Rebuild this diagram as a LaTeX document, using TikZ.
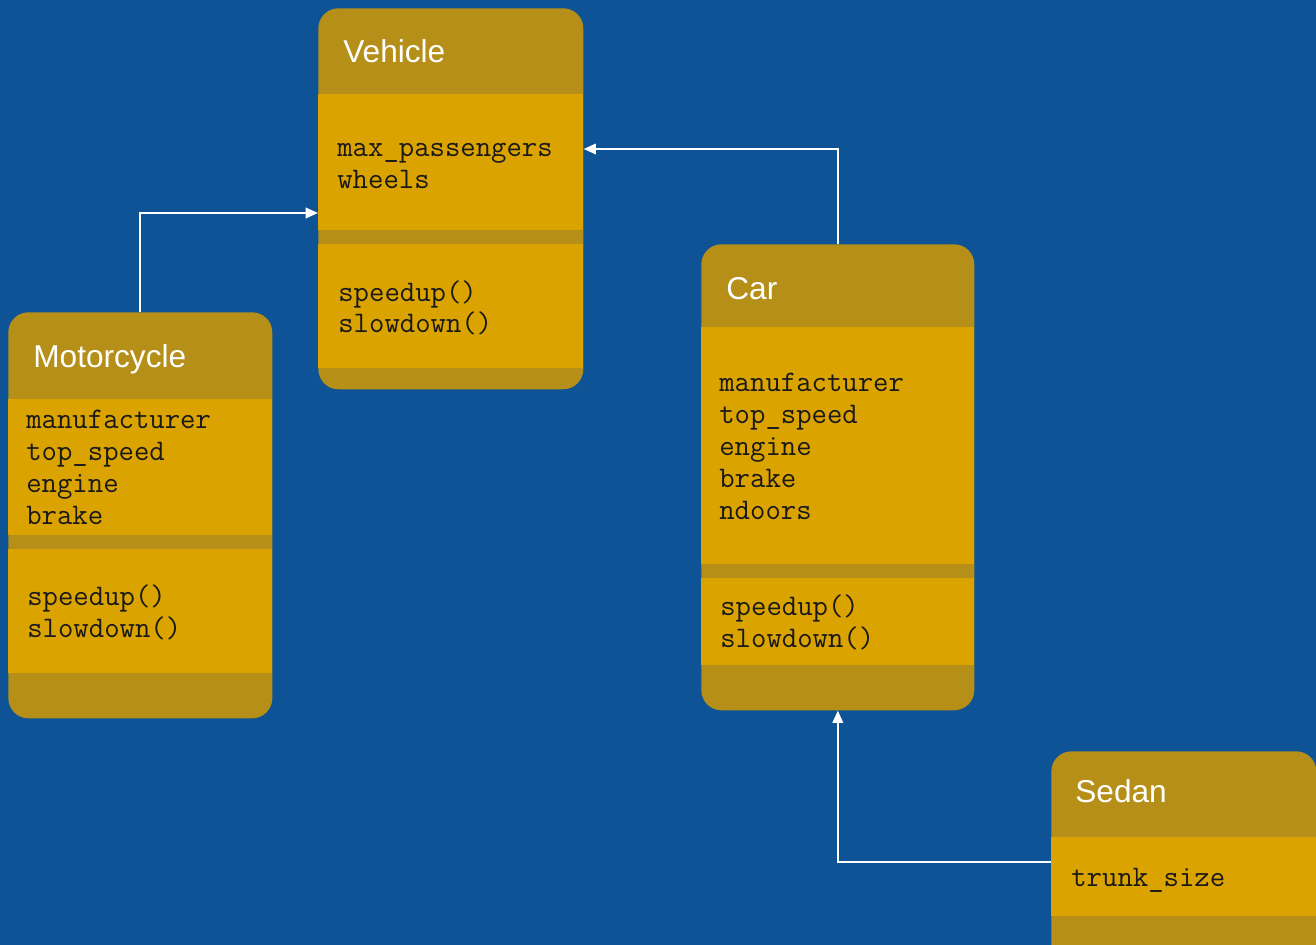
\documentclass[tikz,border=0pt]{standalone}
\usepackage{fontspec}
\setmainfont{Liberation Sans}
\usepackage{tikz}
\usetikzlibrary{arrows.meta, positioning, calc}

\definecolor{bgblue}{RGB}{13,83,149}
\definecolor{hdrgold}{RGB}{181,143,24}
\definecolor{bodygold}{RGB}{218,163,0}

\tikzset{
  classbox/.style={rectangle, rounded corners=0.4cm, fill=hdrgold, inner sep=0pt, anchor=north west, minimum width=5.3cm},
  section/.style={fill=bodygold},
  classname/.style={anchor=base west, inner sep=0pt, text=white, font=\fontsize{18}{22}\selectfont},
  member/.style={anchor=base west, inner sep=0pt, text=black!90, font=\ttfamily\fontsize{17}{20}\selectfont},
  link/.style={draw=white, line width=1.1pt, -{Triangle[width=6pt,length=7pt]}}
}

\begin{document}
\begin{tikzpicture}[x=0.02cm, y=-0.02cm]
			\fill[bgblue] (0,0) rectangle (1316,945);
			\useasboundingbox (0,0) rectangle (1316,945);
			\clip (0,0) rectangle (1316,945);

			% Class boxes
			\node[classbox, minimum height=7.62cm] (vehicle) at (318,8) {};
			\node[classbox, minimum width=5.28cm, minimum height=8.12cm] (moto) at (8,312) {};
			\node[classbox, minimum width=5.46cm, minimum height=9.32cm] (car) at (701,244) {};
			\node[classbox, minimum height=4.6cm] (sedan) at (1051,751) {};

			% Sections
			\fill[section] (318,94) rectangle (583,230);
			\fill[section] (318,244) rectangle (583,368);
			\fill[section] (8,399) rectangle (272,535);
			\fill[section] (8,549) rectangle (272,673);
			\fill[section] (701,327) rectangle (974,564);
			\fill[section] (701,578) rectangle (974,665);
			\fill[section] (1051,837) rectangle (1316,916);

			% Names
			\node[classname] (vehicleT) at (343,63) {Vehicle};
			\node[classname] (motoT) at (33,368) {Motorcycle};
			\node[classname] (carT) at (726,300) {Car};
			\node[classname] (sedanT) at (1075,803) {Sedan};

			% Attributes and methods
			\foreach \t [count=\i from 0] in {max\_passengers, wheels}
				\node[member] (vehA\i) at (337,157+32*\i) {\t};
			\foreach \t [count=\i from 0] in {speedup(), slowdown()}
				\node[member] (vehM\i) at (338,302+31*\i) {\t};
			\foreach \t [count=\i from 0] in {manufacturer, top\_speed, engine, brake}
				\node[member] (motoA\i) at (26,429+32*\i) {\t};
			\foreach \t [count=\i from 0] in {speedup(), slowdown()}
				\node[member] (motoM\i) at (27,606+32*\i) {\t};
			\foreach \t [count=\i from 0] in {manufacturer, top\_speed, engine, brake, ndoors}
				\node[member] (carA\i) at (719,392+32*\i) {\t};
			\foreach \t [count=\i from 0] in {speedup(), slowdown()}
				\node[member] (carM\i) at (720,616+32*\i) {\t};
			\node[member] (sedanA0) at (1071,887) {trunk\_size};

			% Connections
			\draw[link] (moto.north) |- ($(vehicle.north west)+(0,205)$);
			\draw[link] (car.north) |- ($(vehicle.north east)+(0,141)$);
			\draw[link] ($(sedan.north west)+(0,111)$) -| (car.south);
		\end{tikzpicture}
\end{document}
